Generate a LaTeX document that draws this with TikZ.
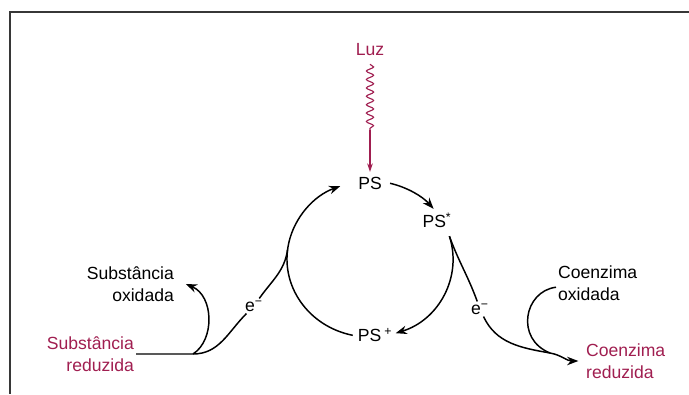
\documentclass[tikz,border=0pt]{standalone}
\usepackage{fontspec}
\setmainfont{Liberation Sans}
\usepackage{xcolor}
\usetikzlibrary{arrows.meta}
\usetikzlibrary{decorations.pathmorphing}
\definecolor{mred}{RGB}{160,30,80}
\definecolor{framegray}{RGB}{55,55,55}
\newcommand{\cycrx}{2.075cm}
\newcommand{\cycry}{1.95cm}
\tikzset{every picture/.style={
    x=0.025cm, y=0.025cm,
    every path/.style={line width=1.05pt},
}}
\tikzset{lbl/.style = {inner sep = 1pt, font = \fontsize{12.5}{15.5}\selectfont}}
\tikzset{tip/.style = {-{Stealth[length=8pt,width=6pt]}}}
\tikzset{wave/.style = {mred, line width=0.8pt, decorate,
    decoration={snake, amplitude=0.9mm, segment length=2.1mm}}}

\begin{document}
\begin{tikzpicture}
    \useasboundingbox (0,0) rectangle (689,394);
    \draw[framegray, line width=2pt] (9,382) -- (689,382);
    \draw[framegray, line width=1.4pt] (10,382) -- (10,0);

    \coordinate (c) at (370,135);
    \node[lbl, text=mred] (luz) at (370,344) {Luz};
    \node[lbl] (ps) at (370,211) {PS};
    \node[lbl] (psstar) at (437,174) {PS\textsuperscript{*}};
    \node[lbl] (psplus) at (375,59) {PS\,\textsuperscript{+}};
    \node[lbl] (eL) at (254,88) {e\textsuperscript{−}};
    \node[lbl] (eR) at (480,85) {e\textsuperscript{−}};
    \node[lbl, align=right, anchor=east] (soxid) at (176,110) {Substância\\oxidada};
    \node[lbl, align=right, anchor=east, text=mred] (sred) at (136,40) {Substância\\reduzida};
    \node[lbl, align=left, anchor=west] (coxid) at (556,111) {Coenzima\\oxidada};
    \node[lbl, align=left, anchor=west, text=mred] (cred) at (584,33) {Coenzima\\reduzida};

    % light
    \draw[wave] (luz.south) ++(0,-6) -- (370,264) coordinate (w2);
    \draw[mred, line width=0.8pt, -{Stealth[length=6pt,width=4pt]}, shorten >=2pt] (w2) -- (ps.north);

    % cycle
    \draw[tip] ([shift={(76:2.075cm and 1.95cm)}]c)
        arc[start angle=76, end angle=40, x radius=\cycrx, y radius=\cycry];
    \draw[tip] ([shift={(17:2.075cm and 1.95cm)}]c) coordinate (spR)
        arc[start angle=17, end angle=-72, x radius=\cycrx, y radius=\cycry];
    \draw[tip] ([shift={(258:2.075cm and 1.95cm)}]c)
        arc[start angle=258, end angle=111, x radius=\cycrx, y radius=\cycry];
    \coordinate (mL) at ([shift={(173:2.075cm and 1.95cm)}]c);

    % electron donor
    \coordinate (bL) at (193,40);
    \draw (sred.east) -- (bL) to[out=0, in=-135] (eL);
    \draw (eL) to[out=55, in=-98] (mL);
    \draw[tip] (bL) .. controls +(22,14) and +(28,-12) .. ([xshift=7pt]soxid.east);

    % electron acceptor
    \coordinate (mR) at (550,41);
    \draw (spR) to[out=-70, in=110] (eR);
    \draw[tip] (eR) to[out=-65, in=170] (mR) to[out=-10, in=180] ([xshift=-4pt]cred.west);
    \draw ([yshift=-3pt]coxid.west) .. controls +(-32,-4) and +(-35,14) .. (mR);
\end{tikzpicture}
\end{document}
